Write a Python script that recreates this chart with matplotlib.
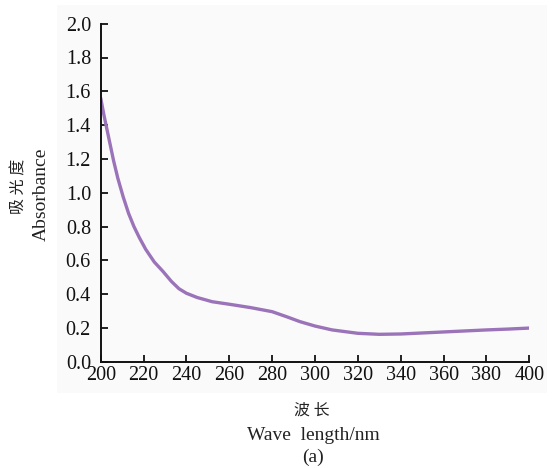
import matplotlib.pyplot as plt
from matplotlib.patches import Rectangle

# Absorbance spectrum
wavelength = [200, 201.5, 203, 204.5, 206, 208, 210.5, 213, 215.5, 218, 221, 225, 229, 233,
              236.5, 240, 245, 252, 260, 270, 280, 287, 293, 300, 308, 320, 330, 340,
              350, 360, 370, 380, 390, 400]
absorbance = [1.56, 1.46, 1.37, 1.28, 1.19, 1.085, 0.975, 0.878, 0.80, 0.735, 0.665,
              0.59, 0.535, 0.475, 0.432, 0.405, 0.38, 0.355, 0.34, 0.32, 0.296, 0.265,
              0.237, 0.211, 0.188, 0.168, 0.162, 0.164, 0.17, 0.176, 0.182, 0.188,
              0.193, 0.199]
xticks = [200, 220, 240, 260, 280, 300, 320, 340, 360, 380, 400]
yticks = [0.0, 0.2, 0.4, 0.6, 0.8, 1.0, 1.2, 1.4, 1.6, 1.8, 2.0]

serif = 'Liberation Serif'
cjk = 'Noto Sans CJK SC'

fig = plt.figure(figsize=(5.52, 4.68), dpi=100)
fig.patch.set_facecolor('white')
# light grey panel behind the plot
fig.patches.append(Rectangle((57 / 552, 1 - 393 / 468), 490 / 552, 388 / 468,
                             transform=fig.transFigure, facecolor='#fafafa',
                             edgecolor='none', zorder=-5))

ax = fig.add_axes([100.7 / 552, 1 - 361.7 / 468, 428.6 / 552, 338 / 468])
ax.set_zorder(2)
ax.set_facecolor('none')
ax.plot(wavelength, absorbance, color='#9b73b9', lw=2.4,
        solid_capstyle='round', solid_joinstyle='round')

ax.set_xlim(200, 400)
ax.set_ylim(0, 2.0)
ax.set_xticks(xticks)
ax.set_yticks(yticks)
ax.set_xticklabels([str(v) for v in xticks], fontfamily=serif, fontsize=14.5)
ax.set_yticklabels(['%.1f' % v for v in yticks], fontfamily=serif, fontsize=14.5)
ax.tick_params(direction='in', length=5, width=1.3, colors='#111111', pad=3)
ax.tick_params(axis='y', pad=7)

for side in ['top', 'right']:
    ax.spines[side].set_visible(False)
for side in ['left', 'bottom']:
    ax.spines[side].set_linewidth(1.4)
    ax.spines[side].set_color('#111111')

# axis titles
fig.text(19 / 552, 1 - 186 / 468, '吸 光 度', rotation=90, ha='center', va='center',
         fontfamily=cjk, fontsize=11.5, color='#222222')
fig.text(41 / 552, 1 - 194 / 468, 'Absorbance', rotation=90, ha='center', va='center',
         fontfamily=serif, fontsize=14, color='#222222')
fig.text(312 / 552, 1 - 410 / 468, '波 长', ha='center', va='center',
         fontfamily=cjk, fontsize=11.5, color='#222222')
fig.text(313 / 552, 1 - 435 / 468, 'Wave  length/nm', ha='center', va='center',
         fontfamily=serif, fontsize=14, color='#222222')
fig.text(313 / 552, 1 - 457 / 468, '(a)', ha='center', va='center',
         fontfamily=serif, fontsize=14, color='#222222')

fig.savefig('out.png', dpi=100)
